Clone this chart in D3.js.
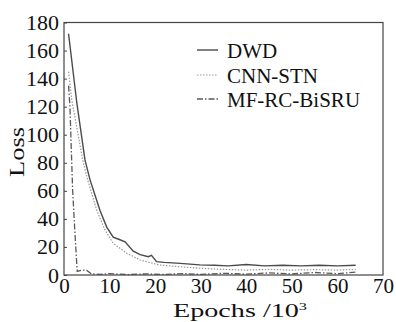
<!DOCTYPE html>
<html><head><meta charset="utf-8">
<script src="https://cdn.jsdelivr.net/npm/d3@7"></script>
<style>body{margin:0;background:#fff;} text{font-family:"Liberation Serif","Times New Roman",serif;}</style>
</head><body><svg id="c" width="396" height="322"></svg>
<script>
const xTicks = [0,10,20,30,40,50,60,70];
const yTicks = [0,20,40,60,80,100,120,140,160,180];

const dwdX = [1,2.8,4.6,5.7,7.9,9.4,10.8,12,13.4,15.2,16.7,18.5,19.2,20.3,22,25.5,29.8,33,36,40,44,48,52,56,60,64];
const dwdY = [172,123,82,68,46,34,27,25.5,23.7,17,14.5,13,14,9.5,9,8.3,7.2,7,6.5,7.5,6.5,7,6.5,7,6.5,7];
const cnnX = [1,1.7,4.1,5,7.2,9,10.8,13.8,16.7,21,25.5,29.8,35,40,45,50,55,60,64];
const cnnY = [145,125,82,70,46,32,22.6,15.5,10.7,7.1,5.9,4.8,4,3.5,4,3.5,3.8,3.5,4];
const mfX = [1,1.3,1.5,1.9,2.4,2.9,4,5,6,8,10,14,18,22,26,30,35,40,45,50,55,60,64];
const mfY = [135,120,100,60,30,2.5,3.5,3.3,0.8,0.5,1,0.3,0.8,0.4,1,0.5,1.2,0.6,1.5,0.8,1.8,1,2];

const seriesNames = ["DWD","CNN-STN","MF-RC-BiSRU"];

const svg = d3.select("#c");
const L=64, R=383, T=22.5, B=275;
const x = d3.scaleLinear().domain([0,70]).range([L,R]);
const y = d3.scaleLinear().domain([0,180]).range([B,T]);

const series = [
  {name:seriesNames[0], xs:dwdX, ys:dwdY, color:"#4a4a4a", dash:null, w:1.4},
  {name:seriesNames[1], xs:cnnX, ys:cnnY, color:"#999", dash:"1.5,1.5", w:1.2},
  {name:seriesNames[2], xs:mfX, ys:mfY, color:"#5a5a5a", dash:"6,2,1.5,2", w:1.3}
];

const line = d3.line().x(d=>x(d[0])).y(d=>y(d[1]));
series.forEach(s=>{
  svg.append("path").datum(s.xs.map((v,i)=>[v,s.ys[i]]))
    .attr("d",line).attr("fill","none").attr("stroke",s.color)
    .attr("stroke-width",s.w).attr("stroke-dasharray",s.dash);
});

// frame
svg.append("rect").attr("x",L).attr("y",T).attr("width",R-L).attr("height",B-T)
  .attr("fill","none").attr("stroke","#444").attr("stroke-width",1.2);

const yAxis = svg.append("g").attr("transform",`translate(${L},0)`)
  .call(d3.axisLeft(y).tickValues(yTicks).tickSize(-3).tickPadding(5));
const xAxis = svg.append("g").attr("transform",`translate(0,${B})`)
  .call(d3.axisBottom(x).tickValues(xTicks).tickSize(0).tickPadding(3));
[yAxis,xAxis].forEach(a=>{
  a.select(".domain").remove();
  a.selectAll("line").attr("stroke","#444");
  a.selectAll("text").attr("font-size",22).attr("fill","#111")
   .attr("font-family","'Liberation Serif',serif");
});
xAxis.selectAll("text").attr("font-size",21);

svg.append("text").attr("transform","translate(24,152) rotate(-90)")
  .attr("text-anchor","middle").attr("font-size",22).attr("fill","#111")
  .attr("textLength",50).attr("lengthAdjust","spacingAndGlyphs").text("Loss");
const xl = svg.append("text").attr("x",240).attr("y",317).attr("text-anchor","middle")
  .attr("font-size",19).attr("fill","#111")
  .attr("textLength",134).attr("lengthAdjust","spacingAndGlyphs");
xl.append("tspan").text("Epochs /10");
xl.append("tspan").attr("font-size",11).attr("dy",-7).text("3");

// legend
const ly = [50,75,99];
series.forEach((s,i)=>{
  svg.append("line").attr("x1",197).attr("x2",218).attr("y1",ly[i]).attr("y2",ly[i])
    .attr("stroke",s.color).attr("stroke-width",s.w).attr("stroke-dasharray",s.dash);
  svg.append("text").attr("x",227).attr("y",ly[i]+8).attr("font-size",21).attr("fill","#111").text(s.name);
});
</script></body></html>
